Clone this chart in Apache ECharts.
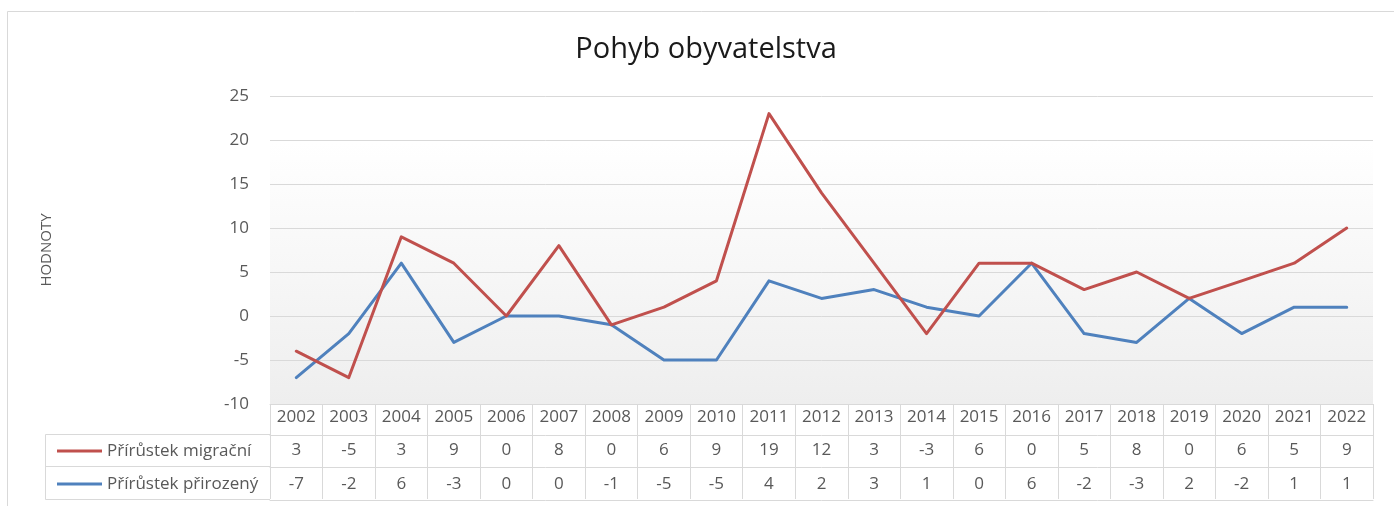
<!DOCTYPE html>
<html>
<head>
<meta charset="utf-8">
<script src="https://cdn.jsdelivr.net/npm/echarts@6/dist/echarts.min.js"></script>
<style>
html,body{margin:0;padding:0;background:#fff;}
#c{width:1394px;height:506px;}
</style>
</head>
<body>
<div id="c"></div>
<script>
const title = 'Pohyb obyvatelstva';
const yName = 'HODNOTY';
const years = ['2002','2003','2004','2005','2006','2007','2008','2009','2010','2011','2012','2013','2014','2015','2016','2017','2018','2019','2020','2021','2022'];
const migracni = [3,-5,3,9,0,8,0,6,9,19,12,3,-3,6,0,5,8,0,6,5,9];
const prirozeny = [-7,-2,6,-3,0,0,-1,-5,-5,4,2,3,1,0,6,-2,-3,2,-2,1,1];
const nameMigr = 'Přírůstek migrační';
const namePrir = 'Přírůstek přirozený';
const RED = '#c0504d', BLUE = '#4f81bd';
const GRIDC = '#d9d9d9', TXT = '#595959';
const FONT = '"Open Sans", "Noto Sans", sans-serif';

const chart = echarts.init(document.getElementById('c'));

function tableAxis(offset, labels, showTick, margin) {
  return {
    type: 'category', data: years, position: 'bottom', offset: offset,
    gridIndex: 0, boundaryGap: true,
    axisLine: { show: true, onZero: false, lineStyle: { color: GRIDC, width: 1 } },
    axisTick: { show: showTick, interval: 0, length: 32, inside: false, lineStyle: { color: GRIDC } },
    axisLabel: labels ? {
      show: true, interval: 0, margin: margin,
      formatter: function (v, i) { return String(labels[i]); },
      fontFamily: FONT, fontSize: 17, lineHeight: 20, color: TXT
    } : { show: false },
    splitLine: { show: false }
  };
}

const option = {
  backgroundColor: '#fff',
  animation: false,
  title: {
    text: title, left: 701, top: 30, textAlign: 'center',
    textStyle: { fontFamily: FONT, fontSize: 29, fontWeight: 'normal', color: '#1a1a1a' }
  },
  grid: {
    left: 270, right: 21, top: 96, bottom: 102, show: true, borderWidth: 0,
    backgroundColor: new echarts.graphic.LinearGradient(0, 0, 0, 1, [
      { offset: 0, color: '#ffffff' },
      { offset: 0.15, color: '#ffffff' },
      { offset: 1, color: '#eeeeee' }
    ])
  },
  legend: [
    {
      data: [nameMigr], left: 52, top: 436, icon: 'rect', itemWidth: 45, itemHeight: 3, itemGap: 6,
      textStyle: { fontFamily: FONT, fontSize: 17, lineHeight: 20, color: TXT }, selectedMode: false
    },
    {
      data: [namePrir], left: 52, top: 469, icon: 'rect', itemWidth: 45, itemHeight: 3, itemGap: 6,
      textStyle: { fontFamily: FONT, fontSize: 17, lineHeight: 20, color: TXT }, selectedMode: false
    }
  ],
  xAxis: [
    tableAxis(0, years, true, 3),
    tableAxis(31, migracni, true, 5),
    tableAxis(63, prirozeny, true, 7),
    tableAxis(96, null, false, 0)
  ],
  yAxis: {
    type: 'value', min: -10, max: 25, interval: 5,
    name: yName, nameLocation: 'middle', nameRotate: 90, nameGap: 216,
    nameTextStyle: { fontFamily: FONT, fontSize: 15, color: TXT },
    axisLine: { show: false }, axisTick: { show: false },
    axisLabel: { margin: 21, fontFamily: FONT, fontSize: 17, color: TXT },
    splitLine: { lineStyle: { color: GRIDC, width: 1 } }
  },
  series: [
    {
      name: namePrir, type: 'line', stack: 'total', stackStrategy: 'all', data: prirozeny, xAxisIndex: 0,
      showSymbol: false, symbol: 'none', color: BLUE,
      lineStyle: { color: BLUE, width: 3, cap: 'round', join: 'round' }, z: 3
    },
    {
      name: nameMigr, type: 'line', stack: 'total', stackStrategy: 'all', data: migracni, xAxisIndex: 0,
      showSymbol: false, symbol: 'none', color: RED,
      lineStyle: { color: RED, width: 3, cap: 'round', join: 'round' }, z: 4
    }
  ],
  graphic: [
    { type: 'rect', shape: { x: 7.5, y: 11.5, width: 1500, height: 600 }, style: { fill: null, stroke: GRIDC, lineWidth: 1 }, silent: true, z: -1 },
    { type: 'line', shape: { x1: 45.5, y1: 434.5, x2: 270, y2: 434.5 }, style: { stroke: GRIDC, lineWidth: 1 }, silent: true },
    { type: 'line', shape: { x1: 45.5, y1: 466.5, x2: 270, y2: 466.5 }, style: { stroke: GRIDC, lineWidth: 1 }, silent: true },
    { type: 'line', shape: { x1: 45.5, y1: 499.5, x2: 270, y2: 499.5 }, style: { stroke: GRIDC, lineWidth: 1 }, silent: true },
    { type: 'line', shape: { x1: 45.5, y1: 434.5, x2: 45.5, y2: 499.5 }, style: { stroke: GRIDC, lineWidth: 1 }, silent: true }
  ]
};
chart.setOption(option);
</script>
</body>
</html>
